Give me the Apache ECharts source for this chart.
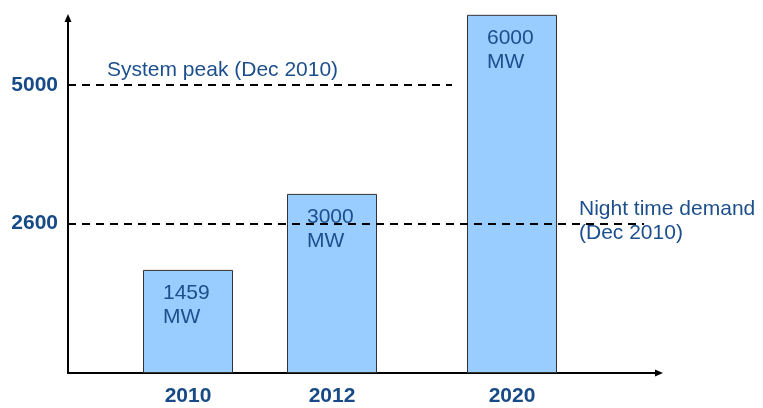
<!DOCTYPE html>
<html>
<head>
<meta charset="utf-8">
<script src="https://cdn.jsdelivr.net/npm/echarts@6/dist/echarts.min.js"></script>
<style>
  html, body { margin: 0; padding: 0; background: #fff; }
  #chart { width: 763px; height: 408px; }
</style>
</head>
<body>
<div id="chart"></div>
<script>
// category slots, blanks keep the uneven spacing of the years (50 slots)
var slots = [
    '', '', '', '', '', '', '', '', '', '',
    '2010',
    '', '', '', '', '', '', '', '', '', '', '',
    '2012',
    '', '', '', '', '', '', '',
    '', '', '', '', '', '', '',
    '2020',
    '', '', '', '', '', '',
    '', '', '', '', '', ''
];
var years = ['2010', '2012', '2020'];
var barHeights = [1790, 3110, 6220];          // bar tops
var barLabels = ['1459\nMW', '3000\nMW', '6000\nMW'];
var yTicks = [2600, 5000];
var peakValue = 5000;
var nightValue = 2600;
var peakText = 'System peak (Dec 2010)';
var nightText = 'Night time demand\n(Dec 2010)';

var blue = '#1c4f8c';
var blueBold = '#174a86';
var font = '"Liberation Sans", Arial, sans-serif';

var chart = echarts.init(document.getElementById('chart'));

var option = {
    animation: false,
    grid: { left: 68, right: 107, top: 20, bottom: 35 },
    xAxis: {
        type: 'category',
        data: slots,
        boundaryGap: false,
        axisLine: {
            lineStyle: { color: '#000', width: 2 },
            symbol: ['none', 'triangle'],
            symbolSize: [7, 8],
            symbolOffset: [0, 3]
        },
        axisTick: { show: false },
        axisLabel: {
            interval: 0,
            margin: 13,
            fontFamily: font,
            fontSize: 21,
            fontWeight: 'bold',
            color: blueBold
        },
        splitLine: { show: false }
    },
    yAxis: {
        type: 'value',
        min: 0,
        max: 6130,
        axisLine: {
            show: true,
            lineStyle: { color: '#000', width: 2 },
            symbol: ['none', 'triangle'],
            symbolSize: [7, 8],
            symbolOffset: [0, 2]
        },
        axisTick: { show: false },
        splitLine: { show: false },
        axisLabel: {
            customValues: yTicks,
            margin: 10,
            fontFamily: font,
            fontSize: 21,
            fontWeight: 'bold',
            color: blueBold,
            formatter: function (v) { return String(v); }
        }
    },
    series: [{
        type: 'bar',
        clip: false,
        barWidth: 90,
        data: slots.map(function (s) {
            var i = years.indexOf(s);
            return i < 0 ? '-' : barHeights[i];
        }),
        itemStyle: { color: '#99ccff', borderColor: '#333', borderWidth: 1 },
        label: {
            show: true,
            position: 'insideTopLeft',
            distance: 11,
            padding: [0, 0, 0, 9],
            fontFamily: font,
            fontSize: 21,
            lineHeight: 24,
            color: blue,
            formatter: function (p) {
                return barLabels[years.indexOf(p.name)];
            }
        },
        emphasis: { disabled: true },
        markLine: {
            silent: true,
            symbol: ['none', 'none'],
            label: { show: false },
            lineStyle: { color: '#000', type: [8, 6], width: 2 },
            data: [
                [{ coord: [0, peakValue] }, { coord: [32, peakValue] }],
                [{ coord: [0, nightValue] }, { coord: [48, nightValue] }]
            ]
        }
    }],
    graphic: [
        {
            type: 'text', left: 107, top: 60,
            style: { text: peakText, fill: blue, font: '21px ' + font }
        },
        {
            type: 'text', left: 579, top: 197,
            style: { text: nightText, fill: blue, font: '21px ' + font, lineHeight: 24 }
        }
    ]
};

chart.setOption(option);
</script>
</body>
</html>
